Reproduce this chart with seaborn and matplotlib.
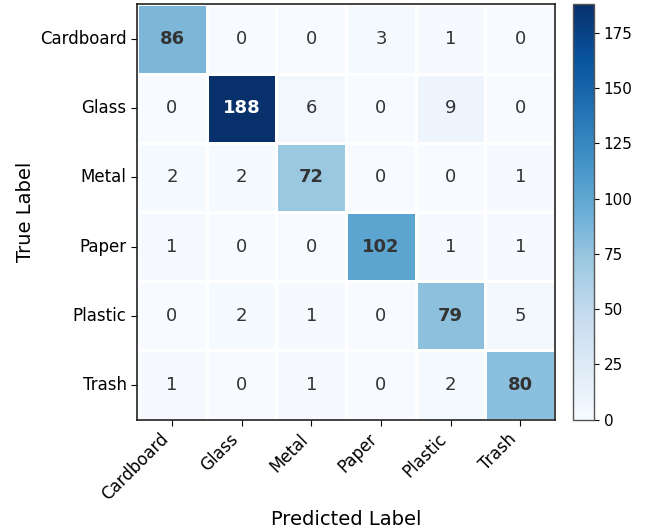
import numpy as np
import matplotlib
matplotlib.use("Agg")
import matplotlib.pyplot as plt
import seaborn as sns

classes = ["Cardboard", "Glass", "Metal", "Paper", "Plastic", "Trash"]
row_cardboard = [86, 0, 0, 3, 1, 0]
row_glass = [0, 188, 6, 0, 9, 0]
row_metal = [2, 2, 72, 0, 0, 1]
row_paper = [1, 0, 0, 102, 1, 1]
row_plastic = [0, 2, 1, 0, 79, 5]
row_trash = [1, 0, 1, 0, 2, 80]

cm = np.array([row_cardboard, row_glass, row_metal, row_paper, row_plastic, row_trash])

fig = plt.figure(figsize=(6.47, 5.32), dpi=100)
ax = fig.add_axes([0.212, 0.211, 0.646, 0.781])
cax = fig.add_axes([0.886, 0.211, 0.032, 0.781])

sns.heatmap(cm, annot=True, fmt="d", cmap="Blues", linewidths=0.8, linecolor="white",
            xticklabels=classes, yticklabels=classes, ax=ax, cbar_ax=cax,
            annot_kws={"fontsize": 13})

for t in ax.texts:
    x, y = t.get_position()
    i, j = int(y), int(x)
    if i == j:
        t.set_fontweight("bold")
    val = cm[i, j]
    if val < 150:
        t.set_color("#333333")

for s in ax.spines.values():
    s.set_visible(True)
    s.set_color("#222222")
    s.set_linewidth(1.2)
cbar = ax.collections[0].colorbar
cbar.outline.set_visible(True)
cbar.outline.set_edgecolor("#555555")
cbar.outline.set_linewidth(1.0)
cax.tick_params(labelsize=11)

ax.set_xticklabels(classes, rotation=45, ha="right", fontsize=12)
ax.set_yticklabels(classes, rotation=0, fontsize=12)
ax.tick_params(axis="both", length=4)
ax.set_xlabel("Predicted Label", fontsize=14, labelpad=4)
ax.set_ylabel("True Label", fontsize=14, labelpad=4)

fig.savefig("out.png", dpi=100)
